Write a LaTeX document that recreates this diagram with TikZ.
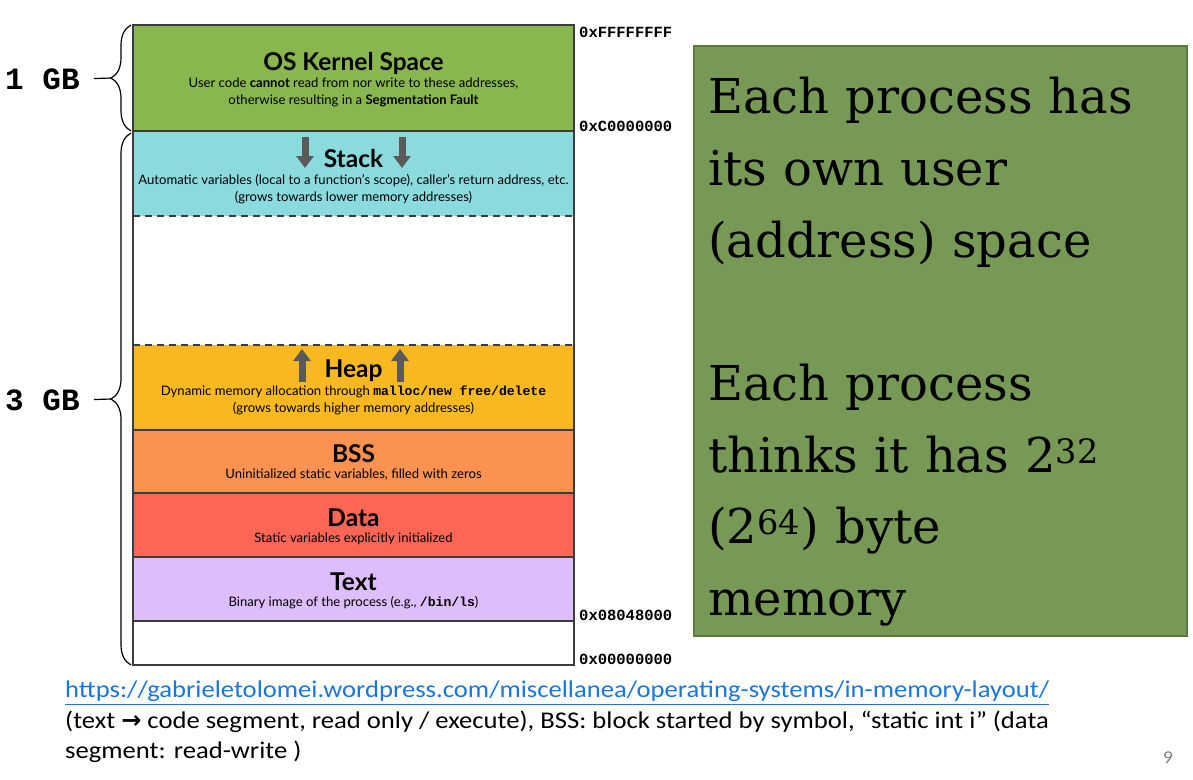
\documentclass[tikz,border=0pt]{standalone}
\usepackage{fontspec}
\setmainfont{Lato}
\setmonofont{Liberation Mono}
\newfontfamily\notefont{DejaVu Serif}
\newfontfamily\footfont[FakeStretch=1.11]{Carlito}
\newfontfamily\symfont{DejaVu Sans}
\usetikzlibrary{arrows.meta,decorations.pathreplacing}

\definecolor{kernelgreen}{RGB}{138,182,80}
\definecolor{stackcyan}{RGB}{139,218,222}
\definecolor{heapyellow}{RGB}{248,185,32}
\definecolor{bssorange}{RGB}{251,146,82}
\definecolor{datared}{RGB}{253,102,86}
\definecolor{textlilac}{RGB}{221,190,250}
\definecolor{notegreen}{RGB}{120,152,85}
\definecolor{noteborder}{RGB}{92,122,60}
\definecolor{arrowgray}{RGB}{90,90,90}
\definecolor{linegray}{RGB}{60,60,60}
\definecolor{linkblue}{RGB}{25,118,222}

\begin{document}
\begin{tikzpicture}[x=1pt, y=-1pt,
    segtitle/.style={font=\bfseries\fontsize{24.5}{26}\selectfont, inner sep=0pt},
    segtext/.style={font=\fontsize{13.1}{17}\selectfont, align=center, inner sep=0pt},
    addr/.style={font=\ttfamily\bfseries\fontsize{15.5}{16}\selectfont, anchor=west, inner sep=0pt},
    gblabel/.style={font=\ttfamily\bfseries\fontsize{31}{31}\selectfont, anchor=west, inner sep=0pt},
    gbbrace/.style={decorate, decoration={brace, amplitude=20pt}, line width=1.2pt},
    gbdash/.style={line width=1.2pt, shorten <=14pt},
    growarrow/.style={line width=7pt, draw=arrowgray, -{Triangle[width=17pt, length=12pt]}},
    sepline/.style={draw=linegray, line width=1.2pt},
    notebox/.style={anchor=north west, fill=notegreen, draw=noteborder, line width=1.5pt,
        minimum width=493pt, minimum height=590pt},
    notetext/.style={anchor=north west, inner sep=0pt, text width=470pt, align=left,
        font=\notefont\fontsize{48}{71.7}\selectfont},
    foot/.style={anchor=north west, inner sep=0pt, align=left, font=\footfont\fontsize{24}{30}\selectfont},
  ]
    \useasboundingbox (0,0) rectangle (1193,779);

    % memory segments
    \fill[kernelgreen] (133,25) rectangle (574,131);
    \fill[stackcyan] (133,131) rectangle (574,216);
    \fill[heapyellow] (133,345) rectangle (574,430);
    \fill[bssorange] (133,430) rectangle (574,493);
    \fill[datared] (133,493) rectangle (574,557);
    \fill[textlilac] (133,557) rectangle (574,621);

    \draw[sepline] (133,131) -- (574,131);
    \draw[sepline] (133,430) -- (574,430);
    \draw[sepline] (133,493) -- (574,493);
    \draw[sepline] (133,557) -- (574,557);
    \draw[sepline] (133,621) -- (574,621);
    \draw[sepline, dash pattern=on 7pt off 5pt] (133,216) -- (574,216);
    \draw[sepline, dash pattern=on 7pt off 5pt] (133,345) -- (574,345);
    \draw[sepline, line width=1.5pt] (133,25) rectangle (574,665);

    \node[segtitle] (kerneltitle) at (353.5,63) {OS Kernel Space};
    \node[segtext] (kerneltext) at (353.5,92) {User code \textbf{cannot} read from nor write to these addresses,\\otherwise resulting in a \textbf{Segmentation Fault}};

    \node[segtitle] (stacktitle) at (353.5,158) {Stack};
    \node[segtext] (stacktext) at (353.5,189) {Automatic variables (local to a function’s scope), caller’s return address, etc.\\(grows towards lower memory addresses)};
    \draw[growarrow] (305,137) -- (305,168);
    \draw[growarrow] (402,137) -- (402,168);

    \node[segtitle] (heaptitle) at (353.5,371) {Heap};
    \node[segtext] (heaptext) at (353.5,400) {Dynamic memory allocation through \texttt{\bfseries malloc/new free/delete}\\(grows towards higher memory addresses)};
    \draw[growarrow] (302,382) -- (302,349);
    \draw[growarrow] (400,382) -- (400,349);

    \node[segtitle] (bsstitle) at (353.5,454) {BSS};
    \node[segtext] (bsstext) at (353.5,475) {Uninitialized static variables, filled with zeros};

    \node[segtitle] (datatitle) at (353.5,518) {Data};
    \node[segtext] (datatext) at (353.5,539) {Static variables explicitly initialized};

    \node[segtitle] (texttitle) at (353.5,582) {Text};
    \node[segtext] (texttext) at (353.5,603) {Binary image of the process (e.g., \texttt{\bfseries /bin/ls})};

    % addresses
    \node[addr] (addrtop) at (579,32) {0xFFFFFFFF};
    \node[addr] (addrkernel) at (579,126) {0xC0000000};
    \node[addr] (addrtext) at (579,615) {0x08048000};
    \node[addr] (addrzero) at (579,659) {0x00000000};

    % sizes
    \draw[gbbrace] (131,131) -- (131,25);
    \draw[gbbrace] (131,665) -- (131,133);
    \coordinate (tipone) at (111,78);
    \coordinate (tipthree) at (111,399);
    \node[gblabel] (gbone) at (5,79) {1 GB};
    \node[gblabel] (gbthree) at (5,400) {3 GB};
    \draw[gbdash] (gbone.east) -- (tipone);
    \draw[gbdash] (gbthree.east) -- (tipthree);

    % note
    \node[notebox] (note) at (693,45) {};
    \node[notetext] (notetext) at (708,77) {Each process has\\its own user\\(address) space\\[71.7pt]Each process\\thinks it has 2\textsuperscript{32}\\(2\textsuperscript{64}) byte\\memory};

    % footer
    \node[foot, text=linkblue] (url) at (65,681) {https://gabrieletolomei.wordpress.com/miscellanea/operating-systems/in-memory-layout/};
    \draw[linkblue, line width=1.3pt] ([yshift=-2pt]url.south west) -- ([yshift=-2pt]url.south east);
    \node[foot] (source) at (65,711)
      {(text {\symfont\bfseries →} code segment, read only / execute), BSS: block started by symbol, “static int i” (data\\
       segment: read-write )};
    \node[font=\footfont\fontsize{18}{18}\selectfont, text=gray, inner sep=0pt] (pagenum) at (1168,758) {9};
\end{tikzpicture}
\end{document}
